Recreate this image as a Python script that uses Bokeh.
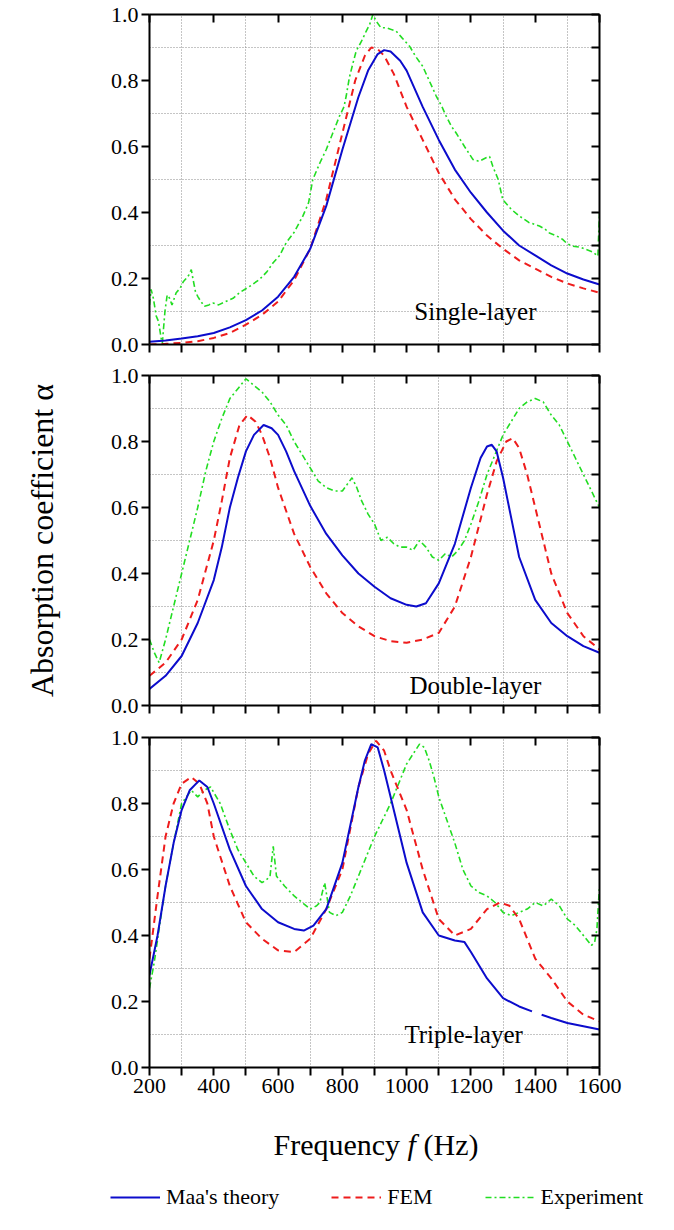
from bokeh.plotting import figure
from bokeh.layouts import column
from bokeh.models import (LinearAxis, FixedTicker, Range1d, Label, Legend,
                          LegendItem, NumeralTickFormatter)
from bokeh.embed import file_html
from bokeh.resources import INLINE

NaN = float("nan")

# ---------------- data ----------------
# Panel 1: single-layer
f1_maa = [200, 250, 300, 350, 400, 450, 500, 550, 600, 650, 700, 750, 800, 850, 880, 910, 930,
          950, 980, 1000, 1050, 1100, 1150, 1200, 1250, 1300, 1350, 1400, 1450, 1500, 1550, 1600]
a1_maa = [0.008, 0.012, 0.018, 0.025, 0.035, 0.052, 0.074, 0.103, 0.145, 0.205, 0.29, 0.42, 0.59,
          0.75, 0.83, 0.88, 0.892, 0.888, 0.86, 0.83, 0.72, 0.62, 0.53, 0.46, 0.40, 0.345, 0.30,
          0.27, 0.24, 0.215, 0.197, 0.182]
f1_fem = [200, 250, 300, 350, 400, 450, 500, 550, 600, 650, 700, 750, 800, 840, 870, 890, 910,
          930, 960, 1000, 1050, 1100, 1150, 1200, 1250, 1300, 1350, 1400, 1450, 1500, 1550, 1600]
a1_fem = [0.0, 0.002, 0.005, 0.01, 0.02, 0.035, 0.06, 0.09, 0.13, 0.195, 0.29, 0.44, 0.64, 0.80,
          0.875, 0.90, 0.895, 0.875, 0.82, 0.72, 0.62, 0.52, 0.44, 0.38, 0.33, 0.29, 0.255, 0.23,
          0.205, 0.185, 0.17, 0.157]
f1_exp = [200, 205, 212, 221, 228, 236, 240, 248, 255, 262, 270, 283, 295, 305, 314, 322, 330,
          335, 343, 350, 360, 371, 385, 397, 415, 439, 460, 480, 510, 542, 565, 584, 605, 625,
          650, 677, 695, 708, 730, 750, 770, 791, 805, 812, 822, 835, 843, 860, 874, 885, 895,
          905, 920, 936, 950, 967, 985, 1009, 1030, 1050, 1070, 1092, 1110, 1123, 1140, 1154,
          1180, 1206, 1225, 1247, 1258, 1268, 1285, 1299, 1325, 1351, 1380, 1413, 1430, 1444,
          1465, 1486, 1500, 1517, 1540, 1558, 1580, 1595, 1598, 1600, 1600]
a1_exp = [0.12, 0.167, 0.14, 0.086, 0.07, 0.02, 0.005, 0.10, 0.15, 0.141, 0.12, 0.157, 0.17,
          0.19, 0.20, 0.21, 0.227, 0.20, 0.16, 0.146, 0.13, 0.116, 0.12, 0.126, 0.12, 0.131, 0.14,
          0.157, 0.175, 0.197, 0.22, 0.247, 0.27, 0.308, 0.34, 0.389, 0.43, 0.50, 0.55, 0.591,
          0.64, 0.692, 0.72, 0.753, 0.81, 0.86, 0.889, 0.92, 0.949, 0.97, 1.0, 0.98, 0.96, 0.96,
          0.955, 0.95, 0.93, 0.904, 0.87, 0.843, 0.80, 0.753, 0.72, 0.692, 0.66, 0.641, 0.60,
          0.561, 0.555, 0.566, 0.57, 0.54, 0.50, 0.439, 0.41, 0.389, 0.37, 0.359, 0.35, 0.338,
          0.33, 0.318, 0.305, 0.298, 0.295, 0.288, 0.28, 0.268, 0.35, 0.40, 0.33]

# Panel 2: double-layer
f2_maa = [200, 250, 300, 350, 400, 425, 450, 475, 500, 525, 555, 580, 600, 625, 650, 700, 750,
          800, 850, 900, 950, 1000, 1030, 1060, 1100, 1150, 1200, 1230, 1250, 1265, 1280, 1300,
          1325, 1350, 1400, 1450, 1500, 1550, 1600]
a2_maa = [0.05, 0.09, 0.15, 0.25, 0.38, 0.48, 0.60, 0.69, 0.77, 0.82, 0.85, 0.84, 0.82, 0.77,
          0.71, 0.605, 0.52, 0.455, 0.40, 0.36, 0.325, 0.305, 0.30, 0.31, 0.37, 0.49, 0.66, 0.75,
          0.785, 0.79, 0.77, 0.69, 0.57, 0.45, 0.32, 0.25, 0.21, 0.18, 0.16]
f2_fem = [200, 250, 300, 350, 400, 425, 450, 480, 505, 530, 550, 575, 600, 650, 700, 750, 800,
          850, 900, 950, 1000, 1050, 1100, 1150, 1200, 1250, 1280, 1310, 1330, 1350, 1375, 1400,
          1450, 1500, 1550, 1600]
a2_fem = [0.09, 0.13, 0.20, 0.32, 0.50, 0.62, 0.75, 0.85, 0.88, 0.86, 0.82, 0.75, 0.66, 0.52,
          0.42, 0.34, 0.28, 0.24, 0.21, 0.195, 0.19, 0.20, 0.22, 0.30, 0.45, 0.64, 0.74, 0.80,
          0.81, 0.78, 0.70, 0.60, 0.40, 0.28, 0.21, 0.17]
f2_exp = [200, 215, 230, 250, 275, 300, 325, 350, 375, 400, 425, 450, 475, 500, 525, 550, 575,
          600, 625, 650, 675, 700, 725, 750, 775, 800, 815, 830, 845, 860, 880, 900, 920, 940,
          960, 980, 1000, 1020, 1040, 1060, 1080, 1100, 1120, 1140, 1160, 1180, 1200, 1225, 1250,
          1275, 1300, 1325, 1350, 1375, 1400, 1425, 1450, 1475, 1500, 1525, 1550, 1575, 1590, 1600]
a2_exp = [0.20, 0.16, 0.13, 0.20, 0.30, 0.40, 0.50, 0.60, 0.71, 0.80, 0.87, 0.93, 0.96, 0.99,
          0.97, 0.95, 0.92, 0.88, 0.85, 0.80, 0.76, 0.72, 0.68, 0.66, 0.65, 0.65, 0.67, 0.69, 0.66,
          0.62, 0.58, 0.55, 0.50, 0.51, 0.49, 0.48, 0.48, 0.47, 0.50, 0.48, 0.45, 0.44, 0.46, 0.45,
          0.47, 0.50, 0.55, 0.62, 0.70, 0.76, 0.82, 0.86, 0.90, 0.92, 0.93, 0.92, 0.88, 0.85, 0.80,
          0.75, 0.70, 0.65, 0.62, 0.60]

# Panel 3: triple-layer
f3_maa = [200, 225, 250, 275, 300, 325, 355, 380, 400, 450, 500, 550, 600, 650, 680, 710, 750,
          800, 850, 870, 890, 910, 930, 960, 1000, 1050, 1100, 1150, 1180, 1200, 1250, 1300, 1350,
          1390, 1405, 1420, 1450, 1500, 1550, 1600]
a3_maa = [0.28, 0.40, 0.55, 0.68, 0.78, 0.84, 0.87, 0.85, 0.80, 0.66, 0.55, 0.48, 0.44, 0.42,
          0.415, 0.43, 0.48, 0.62, 0.85, 0.93, 0.98, 0.97, 0.90, 0.78, 0.62, 0.47, 0.40, 0.385,
          0.38, 0.35, 0.27, 0.21, 0.185, 0.17, NaN, 0.16, 0.15, 0.135, 0.125, 0.115]
f3_fem = [200, 225, 250, 275, 300, 330, 355, 380, 400, 450, 500, 550, 600, 650, 700, 750, 800,
          850, 880, 905, 930, 950, 1000, 1050, 1100, 1150, 1200, 1250, 1290, 1320, 1350, 1400,
          1450, 1500, 1550, 1600]
a3_fem = [0.33, 0.52, 0.70, 0.80, 0.86, 0.88, 0.86, 0.80, 0.70, 0.55, 0.44, 0.39, 0.355, 0.35,
          0.39, 0.48, 0.60, 0.85, 0.95, 0.99, 0.96, 0.90, 0.78, 0.60, 0.45, 0.40, 0.42, 0.48, 0.50,
          0.49, 0.45, 0.33, 0.27, 0.20, 0.16, 0.14]
f3_exp = [200, 215, 230, 250, 275, 300, 330, 350, 370, 390, 420, 450, 475, 500, 525, 550, 565,
          575, 585, 595, 620, 650, 675, 700, 720, 730, 745, 760, 780, 800, 825, 850, 875, 900,
          925, 950, 975, 1000, 1020, 1040, 1055, 1070, 1085, 1100, 1125, 1150, 1175, 1200, 1225,
          1250, 1275, 1300, 1325, 1350, 1375, 1400, 1425, 1450, 1475, 1500, 1525, 1550, 1575,
          1585, 1592, 1600]
a3_exp = [0.24, 0.32, 0.42, 0.55, 0.68, 0.80, 0.84, 0.82, 0.84, 0.85, 0.80, 0.72, 0.66, 0.62,
          0.58, 0.56, 0.57, 0.58, 0.67, 0.58, 0.55, 0.52, 0.50, 0.48, 0.49, 0.50, 0.56, 0.47,
          0.46, 0.47, 0.52, 0.58, 0.64, 0.70, 0.75, 0.80, 0.86, 0.92, 0.95, 0.98, 0.97, 0.93,
          0.88, 0.82, 0.75, 0.68, 0.60, 0.55, 0.53, 0.52, 0.50, 0.47, 0.46, 0.47, 0.48, 0.50,
          0.49, 0.51, 0.49, 0.45, 0.43, 0.40, 0.37, 0.38, 0.42, 0.55]

panel_names = ["Single-layer", "Double-layer", "Triple-layer"]
panel_label_x = [1024, 1009, 993]
panel_label_y = [0.10, 0.06, 0.10]
series_names = ["Maa's theory", "FEM", "Experiment"]
x_major = [200, 400, 600, 800, 1000, 1200, 1400, 1600]
x_minor = [300, 500, 700, 900, 1100, 1300, 1500]
y_major = [0.0, 0.2, 0.4, 0.6, 0.8, 1.0]
y_all = [0.0, 0.1, 0.2, 0.3, 0.4, 0.5, 0.6, 0.7, 0.8, 0.9, 1.0]
y_minor = [0.1, 0.3, 0.5, 0.7, 0.9]

# ---------------- styling ----------------
FONT = "Liberation Serif"
BLUE = "#0c0ccc"
RED = "#ee1c1c"
GREEN = "#22dd22"
DASH_FEM = "7 5"
DASH_EXP = "6 3 2 3"
LEFT_B = 149
RIGHT_B = 70


def style_axis(ax, labels):
    ax.axis_line_width = 2
    ax.axis_line_color = "black"
    ax.major_tick_line_width = 2
    ax.minor_tick_line_width = 2
    ax.major_tick_line_color = "black"
    ax.minor_tick_line_color = "black"
    if labels:
        ax.major_label_text_font = FONT
        ax.major_label_text_font_size = "22px"
        ax.major_label_text_color = "black"
        ax.major_label_standoff = 3
    else:
        ax.major_label_text_font_size = "0px"
        ax.major_label_text_color = None
        ax.major_label_standoff = 0


def make_panel(data, top_b, bottom_b, xlabels, name, lx, ly):
    p = figure(frame_width=450, frame_height=330,
               x_range=Range1d(200, 1600), y_range=Range1d(0, 1),
               output_backend="svg", toolbar_location=None,
               min_border_left=LEFT_B, min_border_right=RIGHT_B,
               min_border_top=top_b, min_border_bottom=bottom_b,
               outline_line_color=None)
    xa = p.xaxis[0]
    xa.ticker = FixedTicker(ticks=x_major, minor_ticks=x_minor)
    xa.major_tick_in = 0
    xa.major_tick_out = 8
    xa.minor_tick_in = 0
    xa.minor_tick_out = 8
    style_axis(xa, xlabels)
    ya = p.yaxis[0]
    ya.ticker = FixedTicker(ticks=y_major, minor_ticks=[])
    ya.major_tick_in = 0
    ya.major_tick_out = 8
    ya.formatter = NumeralTickFormatter(format="0.0")
    style_axis(ya, True)
    ta = LinearAxis(ticker=FixedTicker(ticks=x_major, minor_ticks=[]),
                    major_tick_in=8, major_tick_out=0)
    style_axis(ta, False)
    p.add_layout(ta, "above")
    ra = LinearAxis(ticker=FixedTicker(ticks=y_all, minor_ticks=[]),
                    major_tick_in=8, major_tick_out=0)
    style_axis(ra, False)
    p.add_layout(ra, "right")
    p.xgrid.ticker = FixedTicker(ticks=x_minor)
    p.ygrid.ticker = FixedTicker(ticks=y_minor)
    for g in (p.xgrid, p.ygrid):
        g.grid_line_color = "#8a8a8a"
        g.grid_line_dash = "1 2"
        g.grid_line_width = 1
    fm, am, ff, af, fe, ae = data
    p.line(fe, ae, line_color=GREEN, line_width=1.6, line_dash=DASH_EXP)
    p.line(ff, af, line_color=RED, line_width=2, line_dash=DASH_FEM)
    p.line(fm, am, line_color=BLUE, line_width=2)
    p.add_layout(Label(x=lx, y=ly, text=name, text_font=FONT, text_font_size="25px",
                       text_align="left", text_baseline="middle", text_color="black"))
    return p


p1 = make_panel((f1_maa, a1_maa, f1_fem, a1_fem, f1_exp, a1_exp), 14, 16, False,
                panel_names[0], panel_label_x[0], panel_label_y[0])
p2 = make_panel((f2_maa, a2_maa, f2_fem, a2_fem, f2_exp, a2_exp), 15, 16, False,
                panel_names[1], panel_label_x[1], panel_label_y[1])
p3 = make_panel((f3_maa, a3_maa, f3_fem, a3_fem, f3_exp, a3_exp), 16, 40, True,
                panel_names[2], panel_label_x[2], panel_label_y[2])

# y-axis title on the middle panel
p2.yaxis[0].axis_label = "Absorption coefficient α"
p2.yaxis[0].axis_label_text_font = FONT
p2.yaxis[0].axis_label_text_font_size = "32px"
p2.yaxis[0].axis_label_text_font_style = "normal"
p2.yaxis[0].axis_label_text_color = "black"
p2.yaxis[0].axis_label_standoff = 48

panels = column(p1, p2, p3, spacing=0)

# bottom strip (separate root so its frame spans the whole width)
W4 = 666
H4 = 112
p4 = figure(width=W4, height=H4, x_range=Range1d(1, 1 + W4),
            y_range=Range1d(H4, 0), x_axis_type=None, y_axis_type=None,
            output_backend="svg", toolbar_location=None,
            min_border=0, outline_line_color=None)
p4.add_layout(Label(x=274, y=37, text="Frequency", text_font=FONT, text_font_size="30px",
                    text_align="left", text_baseline="middle", text_color="black"))
p4.add_layout(Label(x=408, y=37, text="f", text_font=FONT, text_font_style="italic",
                    text_font_size="30px", text_align="left", text_baseline="middle",
                    text_color="black"))
p4.add_layout(Label(x=424, y=37, text="(Hz)", text_font=FONT, text_font_size="30px",
                    text_align="left", text_baseline="middle", text_color="black"))

# legend proxies (kept outside the visible range)
r_m = p4.line([-20, -10], [-50, -50], line_color=BLUE, line_width=2)
r_f = p4.line([-20, -10], [-50, -50], line_color=RED, line_width=2, line_dash=DASH_FEM)
r_e = p4.line([-20, -10], [-50, -50], line_color=GREEN, line_width=1.6, line_dash=DASH_EXP)
legend = Legend(items=[LegendItem(label=series_names[0], renderers=[r_m]),
                       LegendItem(label=series_names[1], renderers=[r_f]),
                       LegendItem(label=series_names[2], renderers=[r_e])],
                location=(110, 9), orientation="horizontal",
                glyph_width=50, glyph_height=20, label_height=20, label_standoff=6,
                spacing=52, padding=0, margin=0,
                label_text_font=FONT, label_text_font_size="22px",
                label_text_color="black",
                border_line_color=None, background_fill_alpha=0)
p4.add_layout(legend)

with open("out.html", "w") as fh:
    fh.write(file_html([panels, p4], INLINE))
